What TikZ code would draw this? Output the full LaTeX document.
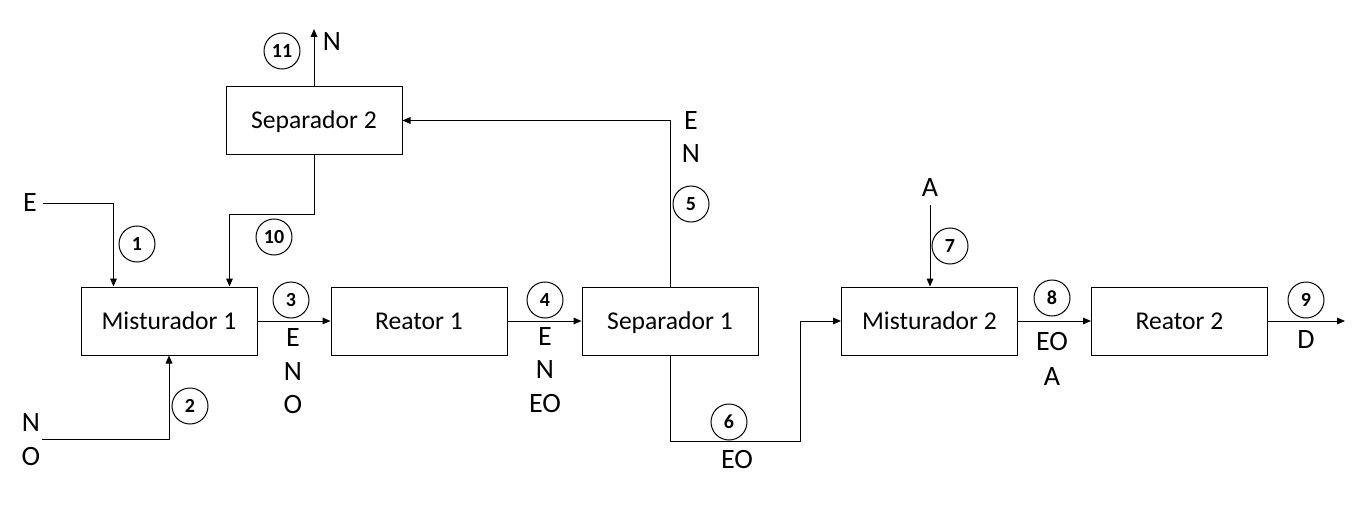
\documentclass[tikz,border=0pt]{standalone}
\usepackage{fontspec}
\setmainfont{Carlito}
\usetikzlibrary{arrows.meta,calc}
\begin{document}
\begin{tikzpicture}[x=0.75pt,y=-0.75pt,
  unit/.style={draw,rectangle,line width=0.75pt,minimum width=132pt,minimum height=51pt,inner sep=0pt,text height=13pt,text depth=1pt,font=\fontsize{19.2}{22}\selectfont},
  num/.style={draw,circle,line width=0.75pt,minimum size=27pt,inner sep=0pt,font=\fontsize{15}{16}\selectfont\bfseries},
  lbl/.style={inner sep=0pt,font=\fontsize{21}{24}\selectfont},
  flow/.style={line width=0.75pt,-{Triangle[length=6pt,width=5pt]}},
  plain/.style={line width=0.75pt}]
\useasboundingbox (0,0) rectangle (1357,510);
% units
\node[unit] (m1) at (169,321) {Misturador 1};
\node[unit] (r1) at (419,321) {Reator 1};
\node[unit] (s1) at (670,321) {Separador 1};
\node[unit] (s2) at (314,120.5) {Separador 2};
\node[unit] (m2) at (929.5,321) {Misturador 2};
\node[unit] (r2) at (1179.5,321) {Reator 2};
% free ends
\coordinate (eIn) at (43,203);
\coordinate (noIn) at (42,439);
\coordinate (nOut) at (314,29);
\coordinate (k10) at (314,214);
\coordinate (k6) at (800,441);
\coordinate (aIn) at (930,205);
\coordinate (dOut) at (1345,321);
% connectors
\draw[flow] (eIn) -| ($(m1.north west)+(33,0)$);
\draw[flow] (noIn) -| (m1.south);
\draw[flow] (s2.south) |- (k10) -| ($(m1.north west)+(149,0)$);
\draw[flow] (s2.north) -- (nOut);
\draw[flow] (m1.east) -- (r1.west);
\draw[flow] (r1.east) -- (s1.west);
\draw[flow] (s1.north) |- (s2.east);
\draw[flow] (s1.south) |- (k6) |- (m2.west);
\draw[flow] (aIn) -- (aIn |- m2.north);
\draw[flow] (m2.east) -- (r2.west);
\draw[flow] (r2.east) -- (dOut);
% stream numbers
\node[num] (n1) at (137,244) {1};
\node[num] (n2) at (190,406) {2};
\node[num] (n3) at (291,300) {3};
\node[num] (n4) at (545,300) {4};
\node[num] (n5) at (691,204) {5};
\node[num] (n6) at (729,422) {6};
\node[num] (n7) at (950,246) {7};
\node[num] (n8) at (1052,298) {8};
\node[num] (n9) at (1306,300) {9};
\node[num] (n10) at (274,237) {10};
\node[num] (n11) at (282,51) {11};
% labels
\node[lbl] (lE1) at (30,203) {E};
\node[lbl] (lN2) at (31,423) {N};
\node[lbl] (lO2) at (31,457) {O};
\node[lbl] (lN11) at (332,42) {N};
\node[lbl] (l3a) at (293,338) {E};
\node[lbl] (l3b) at (293,372) {N};
\node[lbl] (l3c) at (293,405) {O};
\node[lbl] (l4a) at (545,337) {E};
\node[lbl] (l4b) at (545,370) {N};
\node[lbl] (l4c) at (545,404) {EO};
\node[lbl] (l5a) at (691,121) {E};
\node[lbl] (l5b) at (691,154) {N};
\node[lbl] (l6) at (737,460) {EO};
\node[lbl] (l7) at (930,188) {A};
\node[lbl] (l8a) at (1052,342) {EO};
\node[lbl] (l8b) at (1052,377) {A};
\node[lbl] (l9) at (1306,340) {D};
\end{tikzpicture}
\end{document}
